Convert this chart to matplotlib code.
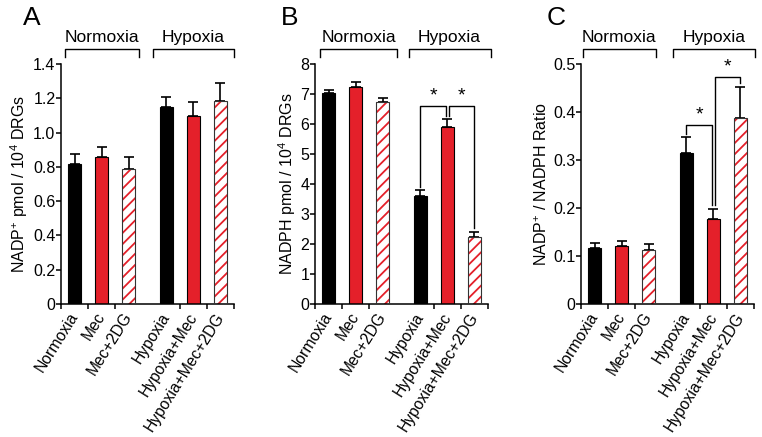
import matplotlib
matplotlib.use("Agg")
import matplotlib.pyplot as plt
import numpy as np

plt.rcParams["font.family"] = ["Liberation Sans", "DejaVu Sans"]
plt.rcParams["mathtext.fontset"] = "custom"
plt.rcParams["mathtext.rm"] = "Liberation Sans"
plt.rcParams["mathtext.it"] = "Liberation Sans:italic"
plt.rcParams["hatch.linewidth"] = 1.3

# groups / categories
categories = ["Normoxia", "Mec", "Mec+2DG", "Hypoxia", "Hypoxia+Mec", "Hypoxia+Mec+2DG"]
groups = ["Normoxia", "Hypoxia"]

# panel A: NADP+ pmol / 10^4 DRGs
nadp_mean = [0.815, 0.86, 0.787, 1.151, 1.099, 1.186]
nadp_err = [0.06, 0.058, 0.068, 0.058, 0.082, 0.101]

# panel B: NADPH pmol / 10^4 DRGs
nadph_mean = [7.02, 7.22, 6.75, 3.59, 5.90, 2.25]
nadph_err = [0.13, 0.19, 0.11, 0.20, 0.26, 0.15]

# panel C: NADP+ / NADPH ratio
ratio_mean = [0.117, 0.121, 0.1125, 0.314, 0.177, 0.387]
ratio_err = [0.011, 0.011, 0.0115, 0.033, 0.021, 0.066]

# significance: (bar i, bar j, bracket height)
sig_b = [(3, 4, 6.61), (4, 5, 6.61)]
sig_c = [(3, 4, 0.373), (4, 5, 0.473)]

RED = "#e4202a"
X = np.array([0, 1, 2, 3.4, 4.4, 5.4])
XLIM = (-0.5, 5.9)


def draw_panel(fig, rect, letter, letter_x, mean, err, ymax, yticks, yticklabels, ylabel,
               group_spans, sigs=None):
    ax = fig.add_axes(rect)
    w = 0.48
    m = np.array(mean)
    ax.bar(X[[0, 3]], m[[0, 3]], w, color="black", edgecolor="black", lw=0.8, zorder=2)
    ax.bar(X[[1, 4]], m[[1, 4]], w, color=RED, edgecolor="black", lw=0.8, zorder=2)
    ax.bar(X[[2, 5]], m[[2, 5]], w, color="white", edgecolor=RED, hatch="///", lw=0, zorder=2)
    ax.bar(X[[2, 5]], m[[2, 5]], w, fill=False, edgecolor="#333333", lw=0.8, zorder=3)
    ax.errorbar(X, mean, yerr=[np.zeros(len(err)), err], fmt="none", ecolor="black",
                elinewidth=1.2, capsize=3.5, capthick=1.2, zorder=1)

    ax.set_xlim(*XLIM)
    ax.set_ylim(0, ymax)
    ax.set_yticks(yticks)
    ax.set_yticklabels(yticklabels)
    ax.set_ylabel(ylabel, fontsize=11.5, labelpad=2)

    ax.set_xticks([XLIM[0], 0.5, 1.5, 3.9, 4.9, XLIM[1]])
    ax.set_xticklabels([])
    ax.set_xticks(X, minor=True)
    ax.set_xticklabels(categories, minor=True, rotation=58, ha="right", va="center",
                       rotation_mode="anchor", fontsize=11.3)
    ax.tick_params(axis="x", which="minor", length=0, pad=7)
    ax.tick_params(axis="both", which="major", direction="out", length=3.5, width=1.1, labelsize=11.5)
    ax.tick_params(axis="y", pad=0.5)
    for s in ["top", "right"]:
        ax.spines[s].set_visible(False)
    for s in ["left", "bottom"]:
        ax.spines[s].set_linewidth(1.1)

    trans = ax.get_xaxis_transform()
    for name, (x1, x2) in zip(groups, group_spans):
        ax.plot([x1, x1, x2, x2], [1.029, 1.0625, 1.0625, 1.029], color="black", lw=1.0,
                transform=trans, clip_on=False)
        ax.text((x1 + x2) / 2, 1.11, name, ha="center", va="center", fontsize=12.5, transform=trans)

    ax.text(letter_x, 1.19, letter, transform=ax.transAxes, fontsize=19, ha="center", va="center")

    if sigs:
        pad = 0.015 * ymax
        off = 0.06
        for i, j, h in sigs:
            xi = X[i] + (off if i == 4 else 0)
            xj = X[j] - (off if j == 4 else 0)
            yi = mean[i] + err[i] + pad
            yj = mean[j] + err[j] + pad
            ax.plot([xi, xi, xj, xj], [yi, h, h, yj], color="black", lw=1.0, zorder=4)
            ax.annotate("*", xy=((xi + xj) / 2, h), xytext=(0, 1), textcoords="offset points",
                        ha="center", va="bottom", fontsize=14)
    return ax


def main():
    fig = plt.figure(figsize=(7.62, 4.37), dpi=100)
    H = 437.0
    W = 762.0
    bottom = 1 - 304 / H
    height = 240 / H
    width = 173 / W

    draw_panel(fig, [61 / W, bottom, width, height], "A", -0.17, nadp_mean, nadp_err, 1.4,
               np.arange(0, 1.41, 0.2), ["0", "0.2", "0.4", "0.6", "0.8", "1.0", "1.2", "1.4"],
               "NADP$^{+}$ pmol / 10$^{4}$ DRGs", [(-0.35, 2.39), (2.91, 5.9)])
    draw_panel(fig, [315 / W, bottom, width, height], "B", -0.145, nadph_mean, nadph_err, 8,
               np.arange(0, 9, 1), [str(v) for v in range(9)],
               "NADPH pmol / 10$^{4}$ DRGs", [(-0.31, 2.53), (2.96, 6.0)], sig_b)
    draw_panel(fig, [581 / W, bottom, width, height], "C", -0.145, ratio_mean, ratio_err, 0.5,
               np.arange(0, 0.51, 0.1), ["0", "0.1", "0.2", "0.3", "0.4", "0.5"],
               "NADP$^{+}$ / NADPH Ratio", [(-0.44, 2.28), (2.89, 5.95)], sig_c)

    fig.savefig("out.png", dpi=100)


if __name__ == "__main__":
    main()
